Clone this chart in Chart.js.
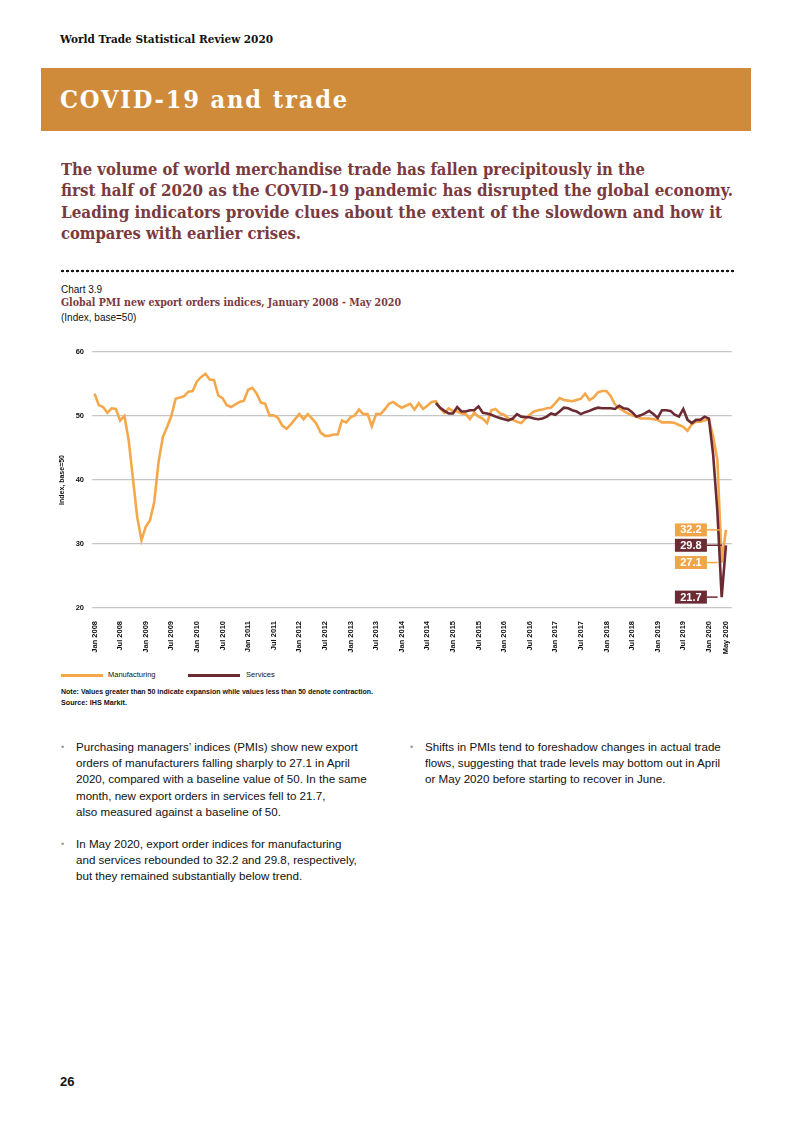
<!DOCTYPE html>
<html>
<head>
<meta charset="utf-8">
<script src="https://cdn.jsdelivr.net/npm/chart.js@4.4.1/dist/chart.umd.min.js"></script>
<style>
  body { margin: 0; width: 793px; height: 1122px; position: relative; background: #fff; overflow: hidden;
         font-family: "Liberation Sans", Arial, sans-serif; color: #111; }
  .abs { position: absolute; white-space: nowrap; }
  .fit { transform-origin: 0 50%; }
  .slab { font-family: "DejaVu Serif", serif; font-weight: bold; }
  #band { left: 41px; top: 68px; width: 710px; height: 63px; background: #d08b3a; }
  .intro { color: #7a3a3e; font-size: 16px; line-height: 21.4px; }
  #dots { left: 60px; top: 269px; width: 675px; height: 4px;
          background-image: radial-gradient(circle, #1a1a1a 1.2px, transparent 1.6px);
          background-size: 5px 4px; }
  .body { font-size: 11.6px; line-height: 16.2px; color: #111; }
  .bullet { color: #9a9a9a; font-size: 9px; line-height: 10px; }
  .leg { font-size: 7.5px; line-height: 10px; }
  .legline { height: 3px; }
</style>
</head>
<body>

<div class="abs slab fit" data-w="213" style="left:60px; top:31px; font-size:11.5px; line-height:16px;">World Trade Statistical Review 2020</div>

<div id="band" class="abs"></div>
<div class="abs slab fit" data-w="289" style="left:60px; top:84px; font-size:25px; line-height:32px; color:#fff; letter-spacing:2px;">COVID-19 and trade</div>

<div class="abs slab intro fit" data-w="584" style="left:61px; top:159px;">The volume of world merchandise trade has fallen precipitously in the</div>
<div class="abs slab intro fit" data-w="672" style="left:61px; top:180.4px;">first half of 2020 as the COVID-19 pandemic has disrupted the global economy.</div>
<div class="abs slab intro fit" data-w="661" style="left:61px; top:201.8px;">Leading indicators provide clues about the extent of the slowdown and how it</div>
<div class="abs slab intro fit" data-w="240" style="left:61px; top:223.2px;">compares with earlier crises.</div>

<div id="dots" class="abs"></div>

<div class="abs" style="left:61px; top:283px; font-size:10px; line-height:13px;">Chart 3.9</div>
<div class="abs slab fit" data-w="340" style="left:61px; top:295px; font-size:10.5px; line-height:14px; color:#7a3a3e;">Global PMI new export orders indices, January 2008 - May 2020</div>
<div class="abs" style="left:61px; top:311px; font-size:10px; line-height:13px;">(Index, base=50)</div>

<canvas id="chart" class="abs" width="700" height="325" style="left:40px; top:335px;"></canvas>

<div id="legend"></div>

<div class="abs fit" data-w="312" style="left:61px; top:687px; font-size:7.2px; line-height:10px; font-weight:bold;">Note: Values greater than 50 indicate expansion while values less than 50 denote contraction.</div>
<div class="abs" style="left:61px; top:698px; font-size:7.2px; line-height:10px; font-weight:bold;">Source: IHS Markit.</div>

<div class="abs bullet" style="left:61px; top:742px;">&bull;</div>
<div class="abs body" style="left:76px; top:739px;">
Purchasing managers’ indices (PMIs) show new export<br>
orders of manufacturers falling sharply to 27.1 in April<br>
2020, compared with a baseline value of 50. In the same<br>
month, new export orders in services fell to 21.7,<br>
also measured against a baseline of 50.
</div>

<div class="abs bullet" style="left:61px; top:839px;">&bull;</div>
<div class="abs body" style="left:76px; top:836px;">
In May 2020, export order indices for manufacturing<br>
and services rebounded to 32.2 and 29.8, respectively,<br>
but they remained substantially below trend.
</div>

<div class="abs bullet" style="left:410px; top:742px;">&bull;</div>
<div class="abs body" style="left:425px; top:739px;">
Shifts in PMIs tend to foreshadow changes in actual trade<br>
flows, suggesting that trade levels may bottom out in April<br>
or May 2020 before starting to recover in June.
</div>

<div class="abs" style="left:60px; top:1074px; font-size:13px; line-height:16px; font-weight:bold;">26</div>

<script>
// months Jan 2008 - May 2020
const monthNames = ["Jan", "Feb", "Mar", "Apr", "May", "Jun", "Jul", "Aug", "Sep", "Oct", "Nov", "Dec"];
const months = [];
for (let y = 2008; y <= 2020; y++) {
  for (let m = 0; m < 12; m++) {
    if (y === 2020 && m > 4) break;
    months.push(monthNames[m] + " " + y);
  }
}

const tickLabels = [
  "Jan 2008", "Jul 2008", "Jan 2009", "Jul 2009", "Jan 2010", "Jul 2010",
  "Jan 2011", "Jul 2011", "Jan 2012", "Jul 2012", "Jan 2013", "Jul 2013",
  "Jan 2014", "Jul 2014", "Jan 2015", "Jul 2015", "Jan 2016", "Jul 2016",
  "Jan 2017", "Jul 2017", "Jan 2018", "Jul 2018", "Jan 2019", "Jul 2019",
  "Jan 2020", "May 2020"
];

// manufacturing, Jan 2008 - May 2020
const manufacturing = [
  53.5, 51.7, 51.4, 50.5, 51.2, 51.1, 49.3, 50.0, 46.2, 40.2, 34.2, 30.6,
  32.7, 33.7, 36.6, 42.8, 46.7, 48.3, 50.0, 52.7, 52.9, 53.1, 53.8, 53.9,
  55.4, 56.1, 56.6, 55.7, 55.6, 53.2, 52.8, 51.7, 51.4, 51.8, 52.2, 52.4,
  54.1, 54.4, 53.5, 52.1, 51.9, 50.1, 50.1, 49.7, 48.5, 48.0, 48.7, 49.5,
  50.3, 49.5, 50.3, 49.6, 48.8, 47.4, 46.9, 46.9, 47.1, 47.1, 49.3, 49.0,
  49.8, 50.1, 51.0, 50.3, 50.3, 48.4, 50.3, 50.3, 51.0, 51.9, 52.2, 51.7,
  51.3, 51.6, 51.9, 51.0, 52.0, 51.1, 51.6, 52.2, 52.3, 51.2, 50.5, 51.2,
  50.8, 50.7, 50.4, 50.3, 49.5, 50.5, 49.9, 49.6, 48.9, 50.9, 51.1, 50.4,
  50.2, 49.6, 49.4, 49.1, 48.9, 49.6, 50.2, 50.7, 50.9, 51.0, 51.2, 51.3,
  52.0, 52.8, 52.5, 52.4, 52.3, 52.5, 52.7, 53.5, 52.5, 52.9, 53.7, 53.9,
  53.9, 53.1, 51.8, 51.2, 50.8, 50.4, 50.1, 49.9, 49.6, 49.6, 49.6, 49.5,
  49.4, 49.0, 49.0, 49.0, 48.9, 48.6, 48.3, 47.7, 48.7, 49.1, 49.1, 49.3,
  49.5, 46.8, 43.1, 27.1, 32.2
];

// services, Sep 2014 - May 2020
const servicesStart = "Sep 2014";
const services = [
  52.0, 51.3, 50.8, 50.4,
  50.4, 51.4, 50.7, 50.7, 50.9, 50.9, 51.5, 50.5, 50.4, 50.2, 49.9, 49.7,
  49.5, 49.3, 49.6, 50.3, 49.9, 49.8, 49.8, 49.6, 49.5, 49.6, 49.9, 50.4,
  50.2, 50.7, 51.3, 51.2, 50.9, 50.7, 50.3, 50.6, 50.8, 51.1, 51.3, 51.2,
  51.2, 51.2, 51.1, 51.6, 51.2, 51.1, 50.6, 49.9, 50.1, 50.4, 50.8, 50.3,
  49.7, 50.9, 50.9, 50.8, 50.2, 49.9, 51.1, 49.4, 48.9, 49.4, 49.4, 49.9,
  49.6, 44.0, 35.0, 21.7, 29.8
];

const seriesNames = ["Manufacturing", "Services"];
const seriesColors = ["#f5a84b", "#6c2a33"];
const boxColors = ["#f0a548", "#6c2a33"];

// value boxes at the end of the lines
const endLabels = [
  { ds: 0, month: "May 2020" },
  { ds: 1, month: "May 2020" },
  { ds: 0, month: "Apr 2020" },
  { ds: 1, month: "Apr 2020" }
];

const manuPoints = manufacturing.map((v, i) => ({ x: i, y: v }));
const servOffset = months.indexOf(servicesStart);
const servPoints = services.map((v, i) => ({ x: servOffset + i, y: v }));
const tickPos = tickLabels.map(l => months.indexOf(l));

const endLabelPlugin = {
  id: "endLabels",
  afterDatasetsDraw(chart) {
    const c = chart.ctx;
    const xs = chart.scales.x;
    const ys = chart.scales.y;
    endLabels.forEach(lab => {
      const idx = months.indexOf(lab.month);
      const pt = chart.data.datasets[lab.ds].data.find(p => p.x === idx);
      const y = ys.getPixelForValue(pt.y);
      const px = xs.getPixelForValue(idx);
      const right = xs.right - 25;
      const w = 32, h = 13;
      c.save();
      c.strokeStyle = boxColors[lab.ds];
      c.lineWidth = 1.5;
      c.beginPath();
      c.moveTo(right, y);
      c.lineTo(px - 4, y);
      c.stroke();
      c.fillStyle = boxColors[lab.ds];
      c.fillRect(right - w, y - h / 2, w, h);
      c.fillStyle = "#fff";
      c.font = "bold 11px 'Liberation Sans', Arial, sans-serif";
      c.textAlign = "center";
      c.textBaseline = "middle";
      c.fillText(pt.y.toFixed(1), right - w / 2, y + 0.5);
      c.restore();
    });
  }
};

const ctx = document.getElementById("chart").getContext("2d");
new Chart(ctx, {
  type: "line",
  data: {
    datasets: [
      { label: seriesNames[0], data: manuPoints, borderColor: seriesColors[0], borderWidth: 2.6,
        pointRadius: 0, tension: 0, order: 1 },
      { label: seriesNames[1], data: servPoints, borderColor: seriesColors[1], borderWidth: 2.6,
        pointRadius: 0, tension: 0, order: 0 }
    ]
  },
  options: {
    responsive: false,
    animation: false,
    layout: { padding: { top: 17, right: 7, left: 0, bottom: 0 } },
    plugins: { legend: { display: false }, tooltip: { enabled: false } },
    scales: {
      x: {
        type: "linear",
        min: -0.6,
        max: 149.4,
        grid: { display: false },
        border: { display: false },
        afterBuildTicks: axis => { axis.ticks = tickPos.map(v => ({ value: v })); },
        afterFit: axis => { axis.height = 52; },
        ticks: {
          autoSkip: false, minRotation: 90, maxRotation: 90, padding: 5,
          color: "#111", font: { size: 7.5, weight: "bold", family: "'Liberation Sans', Arial, sans-serif" },
          callback: v => months[v]
        }
      },
      y: {
        min: 20,
        max: 60,
        border: { display: false },
        grid: { color: "#c6c6c6", lineWidth: 1.3, drawTicks: false },
        afterFit: axis => { axis.width = 52; },
        ticks: {
          stepSize: 10, padding: 8, color: "#111",
          font: { size: 7.5, weight: "bold", family: "'Liberation Sans', Arial, sans-serif" }
        },
        title: {
          display: true, text: "Index, base=50", color: "#111", padding: { top: 18, bottom: 0 },
          font: { size: 7, weight: "bold", family: "'Liberation Sans', Arial, sans-serif" }
        }
      }
    }
  },
  plugins: [endLabelPlugin]
});

// html legend under the chart
const legend = document.getElementById("legend");
const legendPos = [{ line: 61, lw: 42, text: 108 }, { line: 188, lw: 52, text: 246 }];
seriesNames.forEach((name, i) => {
  const ln = document.createElement("div");
  ln.className = "abs legline";
  ln.style.cssText = `left:${legendPos[i].line}px; top:674px; width:${legendPos[i].lw}px; background:${seriesColors[i]};`;
  legend.appendChild(ln);
  const tx = document.createElement("div");
  tx.className = "abs leg";
  tx.style.cssText = `left:${legendPos[i].text}px; top:670px;`;
  tx.textContent = name;
  legend.appendChild(tx);
});

// squeeze heading lines to the widths of the original
document.querySelectorAll(".fit").forEach(el => {
  const w = el.getBoundingClientRect().width;
  const target = +el.dataset.w;
  if (w > 0) el.style.transform = `scaleX(${target / w})`;
});
</script>
</body>
</html>
